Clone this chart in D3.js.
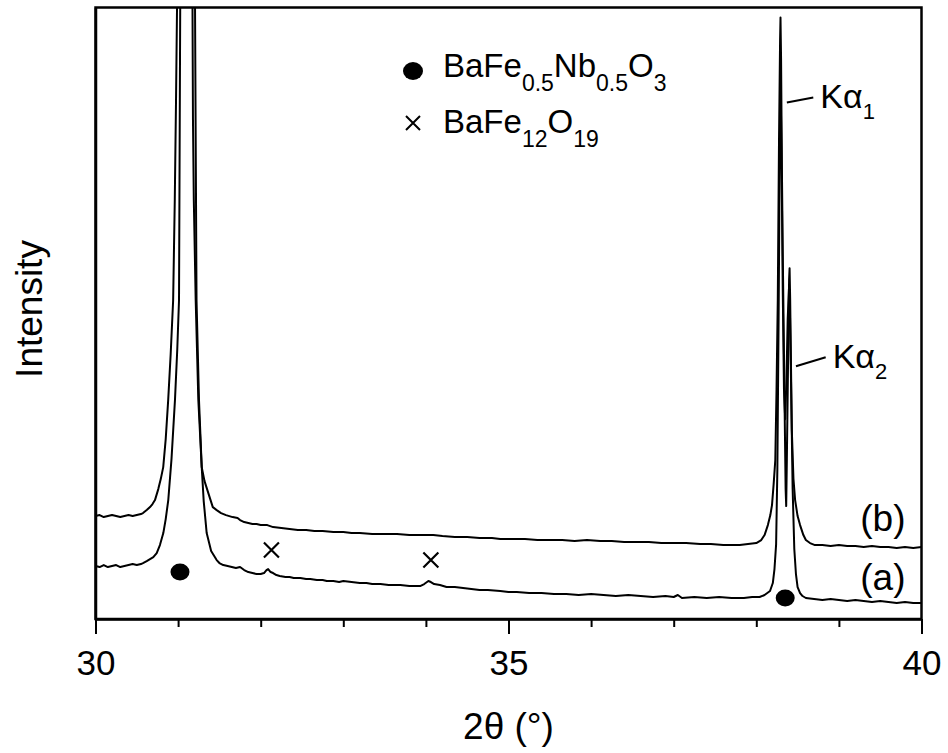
<!DOCTYPE html>
<html>
<head>
<meta charset="utf-8">
<script src="https://cdn.jsdelivr.net/npm/d3@7"></script>
<style>
  html, body { margin: 0; padding: 0; background: #fff; }
  svg { display: block; }
  text { font-family: "Liberation Sans", Arial, Helvetica, sans-serif; fill: #000; }
</style>
</head>
<body>
<svg id="chart" width="948" height="753"></svg>
<script>
// ---------- data (2θ in degrees, intensity in arbitrary units) ----------
const thetaA = [30.00,30.05,30.10,30.15,30.20,30.25,30.30,30.35,30.40,30.45,30.50,30.55,30.575,30.62,30.66,30.70,30.741,30.78,30.821,30.85,30.881,30.92,30.962,30.99,31.011,31.02,31.035,31.07,31.10,31.13,31.165,31.18,31.19,31.213,31.245,31.286,31.31,31.346,31.40,31.467,31.50,31.547,31.60,31.65,31.70,31.75,31.80,31.85,31.90,31.95,32.00,32.04,32.07,32.09,32.12,32.15,32.19,32.23,32.30,32.35,32.40,32.48,32.55,32.60,32.68,32.75,32.80,32.88,32.95,33.00,33.10,33.20,33.28,33.35,33.45,33.55,33.62,33.69,33.80,33.88,33.93,33.98,34.03,34.06,34.10,34.17,34.25,34.35,34.45,34.55,34.65,34.75,34.90,35.00,35.10,35.25,35.40,35.55,35.70,35.85,36.00,36.15,36.30,36.45,36.60,36.75,36.90,37.00,37.05,37.10,37.25,37.40,37.55,37.70,37.85,37.95,38.04,38.10,38.166,38.20,38.22,38.24,38.255,38.27,38.285,38.295,38.305,38.32,38.335,38.35,38.365,38.38,38.395,38.405,38.42,38.44,38.46,38.48,38.50,38.53,38.56,38.60,38.70,38.80,38.90,39.00,39.10,39.20,39.30,39.40,39.50,39.60,39.70,39.80,39.90,40.00];
const intensityA = [53,52,54,52,53,54,52,53,54,55,54,55,56,58,60,62,66,74,86,100,119,160,219,270,319,500,800,1600,2200,1600,800,500,420,319,219,152,118,86,68,59,56,54,53,52,51,52,49,47,46,45,45,46,49,50,47,46,44,43,42,42,41,41,40,40,39,39,38,38,37,38,37,36,36,35,35,34,34,34,33,33,33,35,38,37,35,34,32,32,31,30,29,29,28,27,27,26,26,25,25,24,25,24,23,24,23,22,23,22,24,21,22,21,22,21,21,22,22,24,28,36,50,75,150,300,480,530,470,330,230,200,240,300,330,320,240,130,70,45,32,26,23,21,20,19,20,19,18,19,18,17,18,17,16,17,16,16];

const thetaB = [30.00,30.05,30.10,30.15,30.20,30.25,30.30,30.35,30.40,30.45,30.50,30.55,30.575,30.62,30.66,30.69,30.72,30.76,30.79,30.82,30.85,30.88,30.91,30.94,30.96,30.975,30.987,31.00,31.05,31.10,31.15,31.19,31.205,31.215,31.223,31.253,31.286,31.32,31.366,31.42,31.467,31.52,31.58,31.66,31.72,31.75,31.80,31.85,31.90,31.95,32.00,32.08,32.15,32.25,32.35,32.45,32.55,32.65,32.75,32.88,33.00,33.10,33.20,33.35,33.50,33.65,33.80,33.95,34.09,34.20,34.35,34.50,34.65,34.80,34.90,35.05,35.20,35.35,35.50,35.65,35.80,35.95,36.11,36.25,36.40,36.55,36.70,36.85,37.00,37.15,37.32,37.45,37.60,37.70,37.80,37.90,38.00,38.06,38.10,38.14,38.17,38.19,38.21,38.23,38.245,38.26,38.275,38.288,38.293,38.30,38.31,38.32,38.34,38.355,38.362,38.37,38.385,38.397,38.403,38.41,38.43,38.45,38.47,38.50,38.53,38.57,38.60,38.65,38.71,38.80,38.90,39.00,39.10,39.20,39.30,39.40,39.50,39.60,39.70,39.80,39.90,40.00];
const intensityB = [103,104,102,103,104,103,102,103,104,103,104,105,106,109,112,115,119,130,140,152,180,219,265,319,420,520,612,800,1500,2500,1500,800,612,450,319,219,152,138,126,112,109,106,104,102,101,99,97,96,95,95,94,94,92,91,90,89,89,88,88,87,87,86,86,85,85,85,84,84,84,83,82,82,81,81,80,80,80,79,79,79,78,79,78,78,77,77,77,76,76,76,75,75,74,74,74,75,76,79,84,94,104,114,135,159,230,319,480,580,602,560,450,369,230,130,113,160,260,340,351,320,189,140,119,103,94,84,79,76,74,74,73,74,73,73,72,73,72,72,71,72,71,72];

// phase markers
const perovskiteMarks = [[31.023, 47], [38.35, 21]];   // BaFe0.5Nb0.5O3 (●)
const hexaferriteMarks = [[32.13, 69], [34.06, 59]];   // BaFe12O19 (×)

const xMajorTicks = [30, 35, 40];
const xMinorTicks = [31, 32, 33, 34, 36, 37, 38, 39];
const xDomain = [30, 40];
const yDomain = [0, 612];

const seriesLabels = [["(b)", 78], ["(a)", 19]];
const legendItems = [
  {symbol: "dot",   parts: [["BaFe",0],["0.5",1],["Nb",0],["0.5",1],["O",0],["3",1]]},
  {symbol: "cross", parts: [["BaFe",0],["12",1],["O",0],["19",1]]}
];
const kAlphaNotes = [
  {sub: "1", from: [38.37, 517], to: [38.69, 522]},
  {sub: "2", from: [38.48, 253], to: [38.84, 262]}
];

// ---------- layout ----------
const margin = {left: 95.5, top: 7.5, right: 948 - 921.5, bottom: 753 - 619};
const W = 948 - margin.left - margin.right;
const H = 753 - margin.top - margin.bottom;

const svg = d3.select("#chart");
const g = svg.append("g").attr("transform", `translate(${margin.left},${margin.top})`);

const x = d3.scaleLinear().domain(xDomain).range([0, W]);
const y = d3.scaleLinear().domain(yDomain).range([H, 0]);

svg.append("defs").append("clipPath").attr("id", "plotclip")
  .append("rect").attr("x", 0).attr("y", 0).attr("width", W).attr("height", H);

// curves
const line = d3.line().x(d => x(d[0])).y(d => y(d[1]));
const dataA = thetaA.map((t, i) => [t, intensityA[i]]);
const dataB = thetaB.map((t, i) => [t, intensityB[i]]);
const curves = g.append("g").attr("clip-path", "url(#plotclip)");
[dataA, dataB].forEach(d => {
  curves.append("path").datum(d).attr("d", line)
    .attr("fill", "none").attr("stroke", "#000").attr("stroke-width", 2)
    .attr("stroke-linejoin", "round");
});

// markers
g.selectAll("ellipse.pv").data(perovskiteMarks).join("ellipse")
  .attr("cx", d => x(d[0])).attr("cy", d => y(d[1]))
  .attr("rx", 9.5).attr("ry", 8.5).attr("fill", "#000");
const crossPath = s => `M${-s},${-s}L${s},${s}M${-s},${s}L${s},${-s}`;
g.selectAll("path.hx").data(hexaferriteMarks).join("path")
  .attr("transform", d => `translate(${x(d[0])},${y(d[1])})`)
  .attr("d", crossPath(7.5)).attr("stroke", "#000").attr("stroke-width", 2.2).attr("fill", "none");

// frame
g.append("rect").attr("x", 0).attr("y", 0).attr("width", W).attr("height", H)
  .attr("fill", "none").attr("stroke", "#000").attr("stroke-width", 2.5);

// x axis
const xAxis = d3.axisBottom(x).tickValues(xMajorTicks).tickSize(15).tickPadding(16)
  .tickFormat(d3.format("d")).tickSizeOuter(0);
const xAx = g.append("g").attr("transform", `translate(0,${H})`).call(xAxis);
xAx.select(".domain").attr("stroke-width", 2.5);
xAx.selectAll(".tick line").attr("stroke-width", 2);
xAx.selectAll(".tick text").style("font-size", "35px")
  .style("font-family", "'Liberation Sans', Arial, sans-serif");
const xMinor = d3.axisBottom(x).tickValues(xMinorTicks).tickSize(8).tickFormat("").tickSizeOuter(0);
const xMi = g.append("g").attr("transform", `translate(0,${H})`).call(xMinor);
xMi.select(".domain").remove();
xMi.selectAll(".tick line").attr("stroke-width", 2);

// left axis (no ticks)
const yAx = g.append("g").call(d3.axisLeft(y).tickValues([]).tickSizeOuter(0));
yAx.select(".domain").attr("stroke-width", 2.5);

// axis titles
svg.append("text").attr("x", margin.left + W / 2).attr("y", 739)
  .attr("text-anchor", "middle").style("font-size", "37px").text("2θ (°)");
svg.append("text").attr("transform", "translate(42,309) rotate(-90)")
  .attr("text-anchor", "middle").style("font-size", "37px").text("Intensity");

// series labels
g.selectAll("text.sl").data(seriesLabels).join("text")
  .attr("x", W - 16).attr("y", d => y(d[1]) - 10)
  .attr("text-anchor", "end").style("font-size", "37px").text(d => d[0]);

// legend
const legend = svg.append("g").attr("transform", "translate(413,0)");
legendItems.forEach((it, i) => {
  const cy = 71 + i * 52;
  if (it.symbol === "dot") {
    legend.append("ellipse").attr("cx", 0).attr("cy", cy).attr("rx", 10).attr("ry", 9).attr("fill", "#000");
  } else {
    legend.append("path").attr("transform", `translate(0,${cy})`).attr("d", crossPath(7))
      .attr("stroke", "#000").attr("stroke-width", 2).attr("fill", "none");
  }
  const t = legend.append("text").attr("x", 30).attr("y", 77 + i * 56).style("font-size", "33px");
  let prevSub = 0;
  it.parts.forEach(([s, sub]) => {
    const ts = t.append("tspan").text(s);
    ts.style("font-size", sub ? "23px" : "33px");
    const dy = (sub ? 14 : 0) - (prevSub ? 14 : 0);
    if (dy !== 0) ts.attr("dy", dy);
    prevSub = sub;
  });
});

// Kα annotations
kAlphaNotes.forEach(n => {
  const x1 = x(n.from[0]), y1 = y(n.from[1]), x2 = x(n.to[0]), y2 = y(n.to[1]);
  g.append("line").attr("x1", x1).attr("y1", y1).attr("x2", x2).attr("y2", y2)
    .attr("stroke", "#000").attr("stroke-width", 2);
  const t = g.append("text").attr("x", x2 + 7).attr("y", y2 + 11).style("font-size", "34px");
  t.append("tspan").text("Kα");
  t.append("tspan").text(n.sub).style("font-size", "22px").attr("dy", 11);
});
</script>
</body>
</html>
